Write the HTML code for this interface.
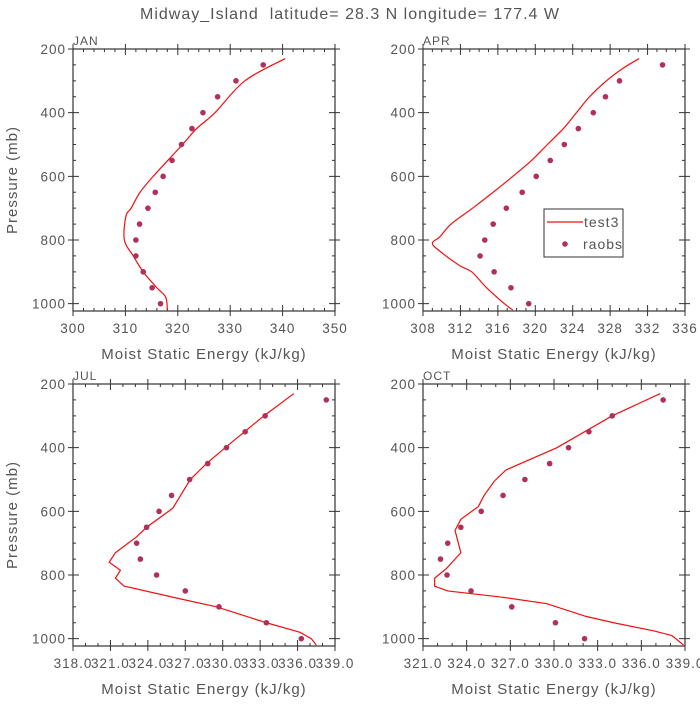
<!DOCTYPE html>
<html><head><meta charset="utf-8"><style>
body{margin:0;background:#fff}
svg text{font-family:"Liberation Sans",sans-serif;fill:#555;letter-spacing:1px}
</style></head><body>
<svg id="c" width="700" height="700" viewBox="0 0 700 700">
<text x="350" y="19" text-anchor="middle" font-size="16" xml:space="preserve" style="white-space:pre">Midway_Island  latitude= 28.3 N longitude= 177.4 W</text>
</svg>
<script>
const levels=[250,300,350,400,450,500,550,600,650,700,750,800,850,900,950,1000];
const janObs=[336.3,331.1,327.6,324.8,322.7,320.7,318.9,317.2,315.7,314.3,312.7,312.0,312.0,313.4,315.1,316.7];
const aprObs=[333.6,329.0,327.5,326.2,324.6,323.1,321.6,320.1,318.6,316.9,315.5,314.6,314.1,315.6,317.4,319.3];
const julObs=[338.3,333.4,331.8,330.3,328.8,327.35,325.9,324.9,323.9,323.1,323.4,324.7,327.0,329.7,333.5,336.3];
const octObs=[337.5,334.0,332.4,331.0,329.7,328.0,326.5,325.0,323.6,322.7,322.2,322.65,324.3,327.1,330.1,332.1];
const janModP=[230,300,400,450,500,600,650,700,725,800,850,900,950,980,1020];
const janModX=[340.5,332.8,327.1,323.6,320.9,315.3,312.8,311.1,310.1,309.8,311.5,313.4,316,317.7,318];
const aprModP=[230,260,300,350,400,450,500,550,600,650,700,750,790,810,835,880,900,950,1000,1020];
const aprModX=[331.1,329.4,327.6,325.8,324.4,323.0,321.3,319.6,317.6,315.5,313.3,311.0,309.8,309.0,309.8,311.9,313.2,314.8,316.7,317.6];
const julModP=[230,300,400,450,500,590,650,680,730,760,785,810,835,875,900,950,980,1000,1020];
const julModX=[335.7,333.3,330.2,328.7,327.4,326.0,323.9,323.1,321.4,320.9,321.8,321.4,322.1,326.6,329.5,333.5,336.2,337.1,337.5];
const octModP=[230,300,400,470,505,550,585,625,660,730,780,810,835,850,870,890,930,950,975,990,1020];
const octModX=[337.3,334.0,330.2,326.7,325.9,325.2,324.8,323.6,323.2,323.6,322.6,321.8,321.8,322.7,326.5,329.5,332.2,334.1,336.8,338.1,338.9];
const yTicks=[200,400,600,800,1000];
const janTicks=["300","310","320","330","340","350"];
const aprTicks=["308","312","316","320","324","328","332","336"];
const julTicks=["318.0","321.0","324.0","327.0","330.0","333.0","336.0","339.0"];
const octTicks=["321.0","324.0","327.0","330.0","333.0","336.0","339.0"];

const NS="http://www.w3.org/2000/svg";
const svg=document.getElementById('c');
function mk(t,a,p){const e=document.createElementNS(NS,t);for(const k in a)e.setAttribute(k,a[k]);(p||svg).appendChild(e);return e;}
function smoothPath(pts){
  let d=`M${pts[0][0]} ${pts[0][1]}`;
  for(let i=0;i<pts.length-1;i++){
    const p0=pts[Math.max(0,i-1)],p1=pts[i],p2=pts[i+1],p3=pts[Math.min(pts.length-1,i+2)];
    const c1=[p1[0]+(p2[0]-p0[0])/6,p1[1]+(p2[1]-p0[1])/6];
    const c2=[p2[0]-(p3[0]-p1[0])/6,p2[1]-(p3[1]-p1[1])/6];
    d+=`C${c1[0]} ${c1[1]} ${c2[0]} ${c2[1]} ${p2[0]} ${p2[1]}`;
  }
  return d;
}
const PMIN=200,PMAX=1023;
function panel(name,L,T,xticks,minorStep,obs,mP,mX,showY,legend,smooth){
  const W=262,H=262;
  const x0=+xticks[0],x1=+xticks[xticks.length-1];
  const sx=v=>L+(v-x0)/(x1-x0)*W;
  const sy=p=>T+(p-PMIN)/(PMAX-PMIN)*H;
  const g=mk('g',{});
  
  
  const fr=mk('rect',{x:L,y:T,width:W,height:H,fill:'none',stroke:'#333','stroke-width':1.2},g);
  
  let tk='';
  for(let v=x0;v<=x1+1e-6;v+=minorStep){const X=sx(v);tk+=`M${X} ${T}v3M${X} ${T+H}v-3`;}
  xticks.forEach(s=>{const X=sx(+s);tk+=`M${X} ${T-5}v11M${X} ${T+H+5}v-11`;});
  for(let p=250;p<=1000;p+=50){const Y=sy(p);tk+=`M${L} ${Y}h3M${L+W} ${Y}h-3`;}
  yTicks.forEach(p=>{const Y=sy(p);tk+=`M${L-5} ${Y}h11M${L+W+5} ${Y}h-11`;});
  const tp=mk('path',{d:tk,stroke:'#333','stroke-width':1,fill:'none'},g);
  
  xticks.forEach(s=>{const t=mk('text',{x:sx(+s),y:T+H+22,'text-anchor':'middle','font-size':13.5},g);t.textContent=s;
    });
  yTicks.forEach(p=>{const t=mk('text',{x:L-7,y:sy(p)+5,'text-anchor':'end','font-size':13.5},g);t.textContent=p;
    });
  const xt=mk('text',{x:L+W/2,y:T+H+48,'text-anchor':'middle','font-size':15},g);xt.textContent='Moist Static Energy (kJ/kg)';
  
  if(showY){const yt=mk('text',{x:0,y:0,'text-anchor':'middle','font-size':15,transform:`translate(${L-56},${T+H/2}) rotate(-90)`},g);yt.textContent='Pressure (mb)';
    }
  const pl=mk('text',{x:L,y:T-4,'font-size':12},g);pl.textContent=name;
  
  const pts=mP.map((p,i)=>[sx(mX[i]),sy(p)]);
  const d=smooth?smoothPath(pts):'M'+pts.map(q=>q[0]+' '+q[1]).join('L');
  const line=mk('path',{d:d,fill:'none',stroke:'#f01010','stroke-width':1.2},g);
  
  obs.forEach((v,i)=>{const c=mk('circle',{cx:sx(v),cy:sy(levels[i]),r:2.8,fill:'#b0305a'},g);
    });
  if(legend){
    const lg=mk('g',{},g);
    mk('rect',{x:544,y:209,width:79,height:48,fill:'#fff',stroke:'#333','stroke-width':1},lg);
    const l1=mk('line',{x1:547,y1:222,x2:583,y2:222,stroke:'#f01010','stroke-width':1.2},lg);
    
    const t1=mk('text',{x:584,y:227,'font-size':14},lg);t1.textContent='test3';
    const c2=mk('circle',{cx:565,cy:244,r:2.8,fill:'#b0305a'},lg);
    
    const t2=mk('text',{x:583,y:249,'font-size':14},lg);t2.textContent='raobs';
  }
}
panel('JAN',73,49,janTicks,2,janObs,janModP,janModX,true,false,true);
panel('APR',423,49,aprTicks,1,aprObs,aprModP,aprModX,false,true,true);
panel('JUL',73,384,julTicks,1,julObs,julModP,julModX,true,false,false);
panel('OCT',423,384,octTicks,1,octObs,octModP,octModX,false,false,false);
</script>
</body></html>
